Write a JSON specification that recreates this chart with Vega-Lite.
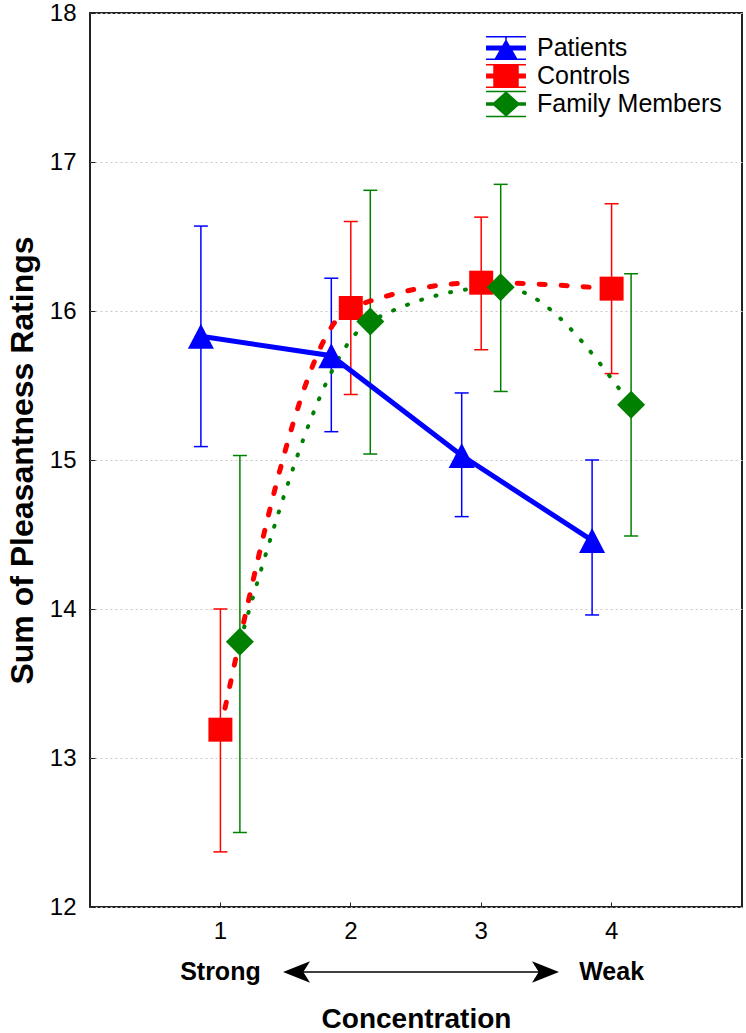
{
  "$schema": "https://vega.github.io/schema/vega-lite/v6.json",
  "width": 652,
  "height": 894,
  "autosize": "none",
  "padding": {"left": 90, "top": 13, "right": 4, "bottom": 126},
  "background": "white",
  "config": {
    "font": "Liberation Sans",
    "view": {"stroke": "#222222", "strokeWidth": 2},
    "axis": {"domain": false, "labelColor": "#000000", "titleColor": "#000000", "tickColor": "#222222", "labelFont": "Liberation Sans", "titleFont": "Liberation Sans"}
  },
  "datasets": {
    "ratings": [
      {"group": "Patients", "conc": 1, "mean": 15.83, "lo": 15.09, "hi": 16.57},
      {"group": "Patients", "conc": 2, "mean": 15.70, "lo": 15.19, "hi": 16.22},
      {"group": "Patients", "conc": 3, "mean": 15.03, "lo": 14.62, "hi": 15.45},
      {"group": "Patients", "conc": 4, "mean": 14.46, "lo": 13.96, "hi": 15.00},
      {"group": "Controls", "conc": 1, "mean": 13.19, "lo": 12.37, "hi": 14.00},
      {"group": "Controls", "conc": 2, "mean": 16.02, "lo": 15.44, "hi": 16.60},
      {"group": "Controls", "conc": 3, "mean": 16.19, "lo": 15.74, "hi": 16.63},
      {"group": "Controls", "conc": 4, "mean": 16.15, "lo": 15.58, "hi": 16.72},
      {"group": "Family Members", "conc": 1, "mean": 13.78, "lo": 12.50, "hi": 15.03},
      {"group": "Family Members", "conc": 2, "mean": 15.93, "lo": 15.04, "hi": 16.81},
      {"group": "Family Members", "conc": 3, "mean": 16.16, "lo": 15.46, "hi": 16.85},
      {"group": "Family Members", "conc": 4, "mean": 15.37, "lo": 14.49, "hi": 16.25}
    ],
    "ends": [
      {"label": "Strong", "conc": 1},
      {"label": "Weak", "conc": 4}
    ]
  },
  "layer": [
    {
      "data": {"name": "ratings"},
      "encoding": {
        "x": {
          "field": "conc", "type": "ordinal",
          "scale": {"type": "band", "domain": [1, 2, 3, 4], "paddingInner": 0, "paddingOuter": 0.5},
          "axis": {"title": "Concentration", "labelAngle": 0, "labelFontSize": 24, "labelPadding": 17, "tickSize": -5, "bandPosition": 0.5, "titleFontSize": 28, "titleFontWeight": "bold", "titlePadding": 62, "grid": false}
        },
        "xOffset": {
          "field": "group", "type": "nominal",
          "scale": {"type": "point", "domain": ["Patients", "Controls", "Family Members"], "range": [45.7, 84.7], "padding": 0}
        },
        "y": {"field": "mean", "type": "quantitative", "scale": {"domain": [12, 18], "nice": false, "zero": false},
          "axis": {"title": "Sum of Pleasantness Ratings", "values": [12, 13, 14, 15, 16, 17, 18], "format": "d", "labelFontSize": 24, "labelPadding": 19, "tickSize": -5, "grid": true, "gridDash": [2, 3], "gridColor": "#c8c8c8", "gridWidth": 1, "titleFontSize": 32, "titleFontWeight": "bold", "titlePadding": 10}}
      },
      "layer": [
        {
          "transform": [{"filter": "datum.group === 'Patients'"}],
          "layer": [
            {"mark": {"type": "rule", "strokeWidth": 1.5, "color": "#0000ff"}, "encoding": {"y": {"field": "lo", "type": "quantitative"}, "y2": {"field": "hi"}}},
            {"mark": {"type": "tick", "thickness": 1.5, "size": 14, "color": "#0000ff", "opacity": 1}, "encoding": {"y": {"field": "lo", "type": "quantitative"}}},
            {"mark": {"type": "tick", "thickness": 1.5, "size": 14, "color": "#0000ff", "opacity": 1}, "encoding": {"y": {"field": "hi", "type": "quantitative"}}}
          ]
        },
        {
          "transform": [{"filter": "datum.group === 'Controls'"}],
          "layer": [
            {"mark": {"type": "rule", "strokeWidth": 1.5, "color": "#ff0000"}, "encoding": {"y": {"field": "lo", "type": "quantitative"}, "y2": {"field": "hi"}}},
            {"mark": {"type": "tick", "thickness": 1.5, "size": 14, "color": "#ff0000", "opacity": 1}, "encoding": {"y": {"field": "lo", "type": "quantitative"}}},
            {"mark": {"type": "tick", "thickness": 1.5, "size": 14, "color": "#ff0000", "opacity": 1}, "encoding": {"y": {"field": "hi", "type": "quantitative"}}}
          ]
        },
        {
          "transform": [{"filter": "datum.group === 'Family Members'"}],
          "layer": [
            {"mark": {"type": "rule", "strokeWidth": 1.5, "color": "#008000"}, "encoding": {"y": {"field": "lo", "type": "quantitative"}, "y2": {"field": "hi"}}},
            {"mark": {"type": "tick", "thickness": 1.5, "size": 14, "color": "#008000", "opacity": 1}, "encoding": {"y": {"field": "lo", "type": "quantitative"}}},
            {"mark": {"type": "tick", "thickness": 1.5, "size": 14, "color": "#008000", "opacity": 1}, "encoding": {"y": {"field": "hi", "type": "quantitative"}}}
          ]
        },
        {
          "transform": [{"filter": "datum.group === 'Patients'"}],
          "mark": {"type": "line", "strokeWidth": 5, "color": "#0000ff"},
          "encoding": {}
        },
        {
          "transform": [{"filter": "datum.group === 'Controls'"}],
          "mark": {"type": "line", "strokeWidth": 5, "color": "#ff0000", "interpolate": "monotone", "strokeDash": [6, 16], "strokeCap": "round"},
          "encoding": {}
        },
        {
          "transform": [{"filter": "datum.group === 'Family Members'"}],
          "mark": {"type": "line", "strokeWidth": 4, "color": "#008000", "interpolate": "monotone", "strokeDash": [1, 14], "strokeCap": "round"},
          "encoding": {}
        },
        {
          "mark": {
            "type": "point", "filled": true, "opacity": 1, "strokeWidth": 0, "size": 784,
            "shape": {"expr": "datum.group === 'Patients' ? 'M0,-0.89L0.93,0.89L-0.93,0.89Z' : datum.group === 'Controls' ? 'M-0.857,-0.857H0.857V0.857H-0.857Z' : datum.group === 'Family Members' ? 'M0,-1L1,0L0,1L-1,0Z' : datum.value === 'Patients' ? 'M-1.33,-0.8H1.33V-0.7H-1.33Z M-1.33,0.7H1.33V0.8H-1.33Z M-1.33,-0.17H1.33V0.17H-1.33Z M-0.05,-0.75H0.05V0.75H-0.05Z M0,-0.6L0.75,0.7L-0.75,0.7Z' : datum.value === 'Controls' ? 'M-1.33,-0.8H1.33V-0.7H-1.33Z M-1.33,0.7H1.33V0.8H-1.33Z M-1.33,-0.17H1.33V0.17H-1.33Z M-0.85,-0.7H0.85V0.7H-0.85Z' : 'M-1.33,-0.88H1.33V-0.78H-1.33Z M-1.33,0.78H1.33V0.88H-1.33Z M-1.33,-0.12H1.33V0.12H-1.33Z M0,-0.85L0.95,0L0,0.85L-0.95,0Z'"}
          },
          "encoding": {
            "color": {
              "field": "group", "type": "nominal",
              "scale": {"domain": ["Patients", "Controls", "Family Members"], "range": ["#0000ff", "#ff0000", "#008000"]},
              "legend": {
                "title": null, "orient": "top-right", "offset": 20, "padding": 0,
                "labelFontSize": 25, "labelFont": "Liberation Sans", "labelColor": "#000000", "labelLimit": 400,
                "symbolSize": 900, "rowPadding": 0, "labelOffset": 16, "symbolStrokeWidth": 0,
                "encode": {
                  "symbols": {
                    "size": {"value": 900},
                    "strokeWidth": {"value": 0},
                    "opacity": {"value": 1}
                  }
                }
              }
            }
          }
        }
      ]
    },
    {
      "layer": [
        {
          "data": {"name": "ends"},
          "mark": {"type": "text", "fontSize": 25, "fontWeight": "bold", "baseline": "middle", "align": "center", "color": "#000000"},
          "encoding": {
            "x": {"field": "conc", "type": "quantitative", "scale": {"domain": [0, 5], "nice": false, "zero": false}, "axis": null},
            "y": {"datum": 11.564, "type": "quantitative", "scale": {"domain": [12, 18], "nice": false, "zero": false}},
            "text": {"field": "label"}
          }
        },
        {
          "data": {"values": [{}]},
          "mark": {"type": "rule", "strokeWidth": 1.5, "color": "#000000"},
          "encoding": {
            "x": {"datum": 1.584, "type": "quantitative", "scale": {"domain": [0, 5], "nice": false, "zero": false}, "axis": null},
            "x2": {"datum": 3.493},
            "y": {"datum": 11.564, "type": "quantitative"}
          }
        },
        {
          "data": {"values": [{}]},
          "mark": {"type": "point", "filled": true, "opacity": 1, "color": "#000000", "strokeWidth": 0, "size": 729, "shape": "M-1,0L1,-0.8L0.5,0L1,0.8Z"},
          "encoding": {
            "x": {"datum": 1.584, "type": "quantitative", "axis": null},
            "y": {"datum": 11.564, "type": "quantitative"}
          }
        },
        {
          "data": {"values": [{}]},
          "mark": {"type": "point", "filled": true, "opacity": 1, "color": "#000000", "strokeWidth": 0, "size": 729, "shape": "M1,0L-1,-0.8L-0.5,0L-1,0.8Z"},
          "encoding": {
            "x": {"datum": 3.493, "type": "quantitative", "axis": null},
            "y": {"datum": 11.564, "type": "quantitative"}
          }
        }
      ]
    }
  ],
  "resolve": {"scale": {"x": "independent"}}
}
